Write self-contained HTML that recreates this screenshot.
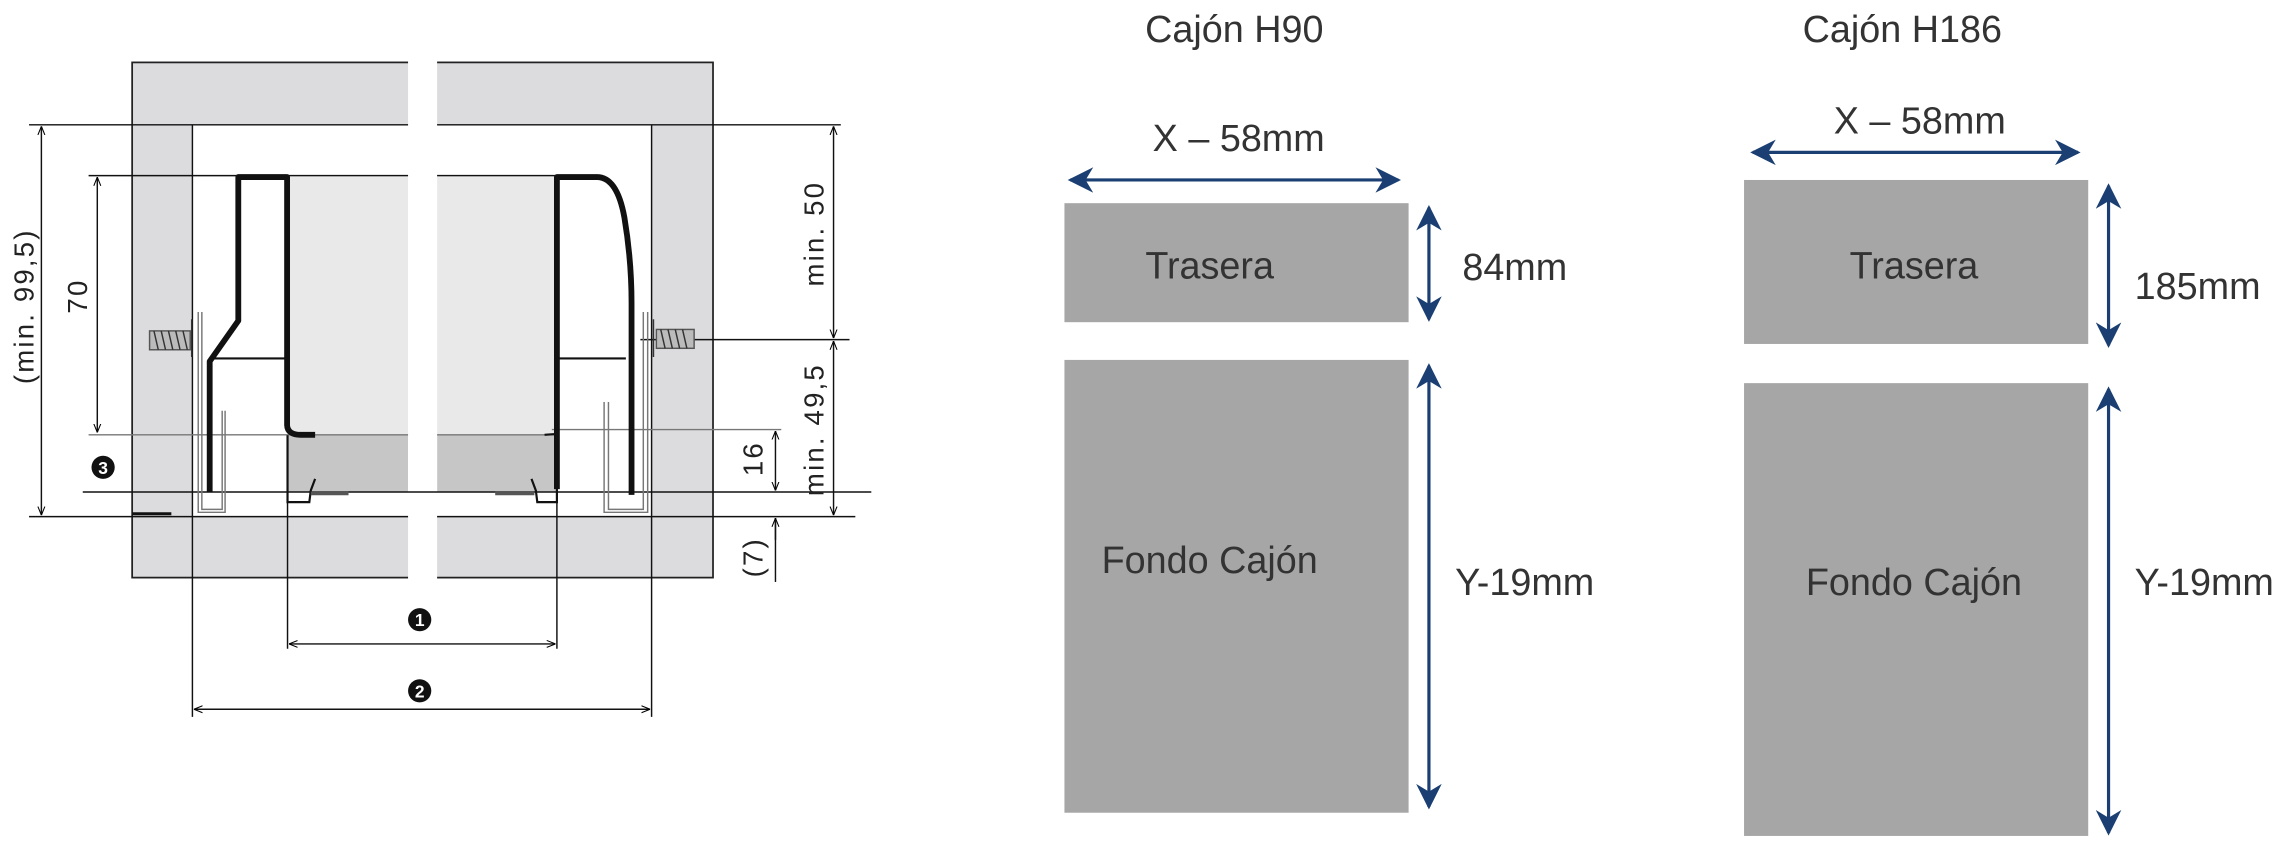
<!DOCTYPE html>
<html><head><meta charset="utf-8"><style>
html,body{margin:0;padding:0;background:#fff;}
svg{display:block;}
text{font-family:"Liberation Sans",sans-serif;}
</style></head><body>
<svg width="2277" height="849" viewBox="0 0 1568 585" preserveAspectRatio="none" xmlns="http://www.w3.org/2000/svg">
<defs>
<marker id="ak" viewBox="0 0 10 10" refX="10" refY="5" markerWidth="6" markerHeight="6" orient="auto-start-reverse"><path d="M0,1 L10,5 L0,9" fill="none" stroke="#000" stroke-width="1.2"/></marker>
<marker id="an" viewBox="0 0 10 10" refX="9" refY="5" markerWidth="8" markerHeight="8" orient="auto-start-reverse"><path d="M0,0 L10,5 L0,10 L3,5 Z" fill="#1b3f72"/></marker>
</defs>
<rect x="91" y="43" width="400" height="355" fill="#dcdcde" stroke="#222" stroke-width="1.2"/>
<rect x="132.5" y="86" width="316" height="270" fill="#fff"/>
<rect x="198" y="122" width="83" height="178" fill="#e9e9ea"/>
<rect x="301" y="122" width="83" height="178" fill="#e9e9ea"/>
<rect x="198" y="300" width="83" height="39" fill="#c6c6c7"/>
<rect x="301" y="300" width="83" height="39" fill="#c6c6c7"/>
<rect x="281" y="40" width="20" height="362" fill="#fff"/>
<g stroke="#111" stroke-width="1" fill="none">
<line x1="132.5" y1="86" x2="132.5" y2="356"/>
<line x1="448.7" y1="86" x2="448.7" y2="356"/>
<line x1="20" y1="86" x2="281" y2="86"/><line x1="301" y1="86" x2="579" y2="86"/>
<line x1="20" y1="356" x2="281" y2="356"/><line x1="301" y1="356" x2="589" y2="356"/>
<line x1="61" y1="121" x2="281" y2="121"/><line x1="301" y1="121" x2="384" y2="121"/>
<line x1="61" y1="299.6" x2="281" y2="299.6" stroke="#777"/><line x1="301" y1="299.6" x2="384" y2="299.6" stroke="#777"/>
<line x1="380" y1="296" x2="538" y2="296" stroke="#777"/>
<line x1="57" y1="339" x2="600" y2="339"/>
<line x1="441" y1="234" x2="585" y2="234"/>
<line x1="28.5" y1="87" x2="28.5" y2="355" marker-start="url(#ak)" marker-end="url(#ak)"/>
<line x1="67" y1="122" x2="67" y2="298" marker-start="url(#ak)" marker-end="url(#ak)"/>
<line x1="574" y1="87" x2="574" y2="233" marker-start="url(#ak)" marker-end="url(#ak)"/>
<line x1="574" y1="235" x2="574" y2="355" marker-start="url(#ak)" marker-end="url(#ak)"/>
<line x1="534" y1="297" x2="534" y2="338" marker-start="url(#ak)" marker-end="url(#ak)"/>
<line x1="534" y1="357" x2="534" y2="401"/>
<line x1="534" y1="372" x2="534" y2="357" marker-end="url(#ak)"/>
<line x1="198" y1="300" x2="198" y2="447"/><line x1="383.5" y1="300" x2="383.5" y2="447"/>
<line x1="199" y1="443.7" x2="382.5" y2="443.7" marker-start="url(#ak)" marker-end="url(#ak)"/>
<line x1="132.5" y1="356" x2="132.5" y2="494"/><line x1="448.7" y1="356" x2="448.7" y2="494"/>
<line x1="133.5" y1="488.7" x2="447.7" y2="488.7" marker-start="url(#ak)" marker-end="url(#ak)"/>
</g>
<line x1="91" y1="354" x2="118" y2="354" stroke="#111" stroke-width="2"/>
<g stroke="#777" stroke-width="1" fill="none">
<path d="M136.5,215 V353 H155 V283"/><path d="M139,215 V351 H153 V283"/>
<path d="M446,215 V353 H416 V277"/><path d="M443,215 V351 H419 V277"/>
</g>
<g stroke="#111" stroke-width="4" fill="none" stroke-linejoin="round">
<path d="M144.4,339 V249 L164.1,221 V122 H197.7 V293 Q198,299.6 207,299.6 H217"/>
<path d="M383.5,337 V122 H411 Q425,122 430,150 Q435,180 434.9,210 V341"/>
</g>
<g stroke="#111" stroke-width="1.5" fill="none">
<line x1="145" y1="247" x2="197" y2="247"/><line x1="384" y1="247" x2="431" y2="247"/>
<line x1="383.5" y1="299" x2="375" y2="299.6"/>
<path d="M198,300 V346 H213 L214,338 L217,330"/><path d="M383.5,300 V346 H370 L369,338 L366,330"/>
<line x1="214" y1="340" x2="240" y2="340" stroke-width="2.5" stroke="#555"/>
<line x1="341" y1="340" x2="368" y2="340" stroke-width="2.5" stroke="#555"/>
</g>
<g stroke="#555" stroke-width="1" fill="#bbb">
<rect x="103" y="228" width="28" height="13"/>
<rect x="452" y="227" width="26" height="13"/>
</g>
<g stroke="#333" stroke-width="1">
<path d="M106,228 L109,241 M111,228 L114,241 M116,228 L119,241 M121,228 L124,241 M126,228 L129,241"/>
<path d="M455,227 L458,240 M460,227 L463,240 M465,227 L468,240 M470,227 L473,240"/>
<line x1="132" y1="220" x2="132" y2="246"/><line x1="450" y1="220" x2="450" y2="246"/>
</g>
<g font-size="19" fill="#222" text-anchor="middle" letter-spacing="1.5">
<text transform="translate(23,211) rotate(-90)">(min. 99,5)</text>
<text transform="translate(60,204) rotate(-90)">70</text>
<text transform="translate(567,161) rotate(-90)">min. 50</text>
<text transform="translate(567,296) rotate(-90)">min. 49,5</text>
<text transform="translate(525,316) rotate(-90)">16</text>
<text transform="translate(525,384) rotate(-90)">(7)</text>
</g>
<g font-size="12" font-weight="bold" fill="#fff" text-anchor="middle">
<circle cx="71" cy="322" r="8" fill="#111"/><text x="71" y="326.5">3</text>
<circle cx="289" cy="427" r="8" fill="#111"/><text x="289" y="431.5">1</text>
<circle cx="289" cy="476" r="8" fill="#111"/><text x="289" y="480.5">2</text>
</g>
<rect x="733" y="140" width="237" height="82" fill="#a6a6a6"/>
<rect x="733" y="248" width="237" height="312" fill="#a6a6a6"/>
<rect x="1201" y="124" width="237" height="113" fill="#a6a6a6"/>
<rect x="1201" y="264" width="237" height="312" fill="#a6a6a6"/>
<g stroke="#1b3f72" stroke-width="2.2" fill="none">
<line x1="737" y1="124" x2="963" y2="124" marker-start="url(#an)" marker-end="url(#an)"/>
<line x1="984" y1="143" x2="984" y2="220" marker-start="url(#an)" marker-end="url(#an)"/>
<line x1="984" y1="252" x2="984" y2="556" marker-start="url(#an)" marker-end="url(#an)"/>
<line x1="1207" y1="105" x2="1431" y2="105" marker-start="url(#an)" marker-end="url(#an)"/>
<line x1="1452" y1="128" x2="1452" y2="238" marker-start="url(#an)" marker-end="url(#an)"/>
<line x1="1452" y1="268" x2="1452" y2="574" marker-start="url(#an)" marker-end="url(#an)"/>
</g>
<g font-size="26" fill="#333">
<text x="850" y="29" text-anchor="middle">Cajón H90</text>
<text x="1310" y="29" text-anchor="middle">Cajón H186</text>
<text x="853" y="104" text-anchor="middle">X – 58mm</text>
<text x="1322" y="92" text-anchor="middle">X – 58mm</text>
<text x="833" y="192" text-anchor="middle">Trasera</text>
<text x="1318" y="192" text-anchor="middle">Trasera</text>
<text x="833" y="395" text-anchor="middle">Fondo Cajón</text>
<text x="1318" y="410" text-anchor="middle">Fondo Cajón</text>
<text x="1007" y="193">84mm</text>
<text x="1002" y="410">Y-19mm</text>
<text x="1470" y="206">185mm</text>
<text x="1470" y="410">Y-19mm</text>
</g>
</svg>
</body></html>
